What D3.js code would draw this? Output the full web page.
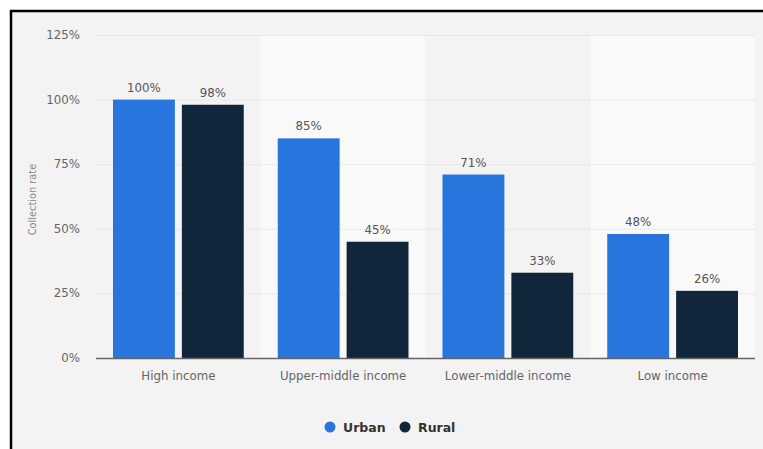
<!DOCTYPE html>
<html><head><meta charset="utf-8">
<script src="https://cdn.jsdelivr.net/npm/d3@7"></script>
<style>body{margin:0;background:#fff}svg{display:block}text{font-family:"DejaVu Sans",sans-serif}</style>
</head><body><div id="chart"></div>
<script>
const categories = ["High income","Upper-middle income","Lower-middle income","Low income"];
const series = ["Urban","Rural"];
const urban = [100,85,71,48];
const rural = [98,45,33,26];
const yTicks = [0,25,50,75,100,125];
const colors = {Urban:"#2876dd", Rural:"#12263b"};
const values = {Urban:urban, Rural:rural};

const W=763,H=449;
const svg=d3.select("#chart").append("svg").attr("width",W).attr("height",H);
svg.append("rect").attr("width",W).attr("height",H).attr("fill","#fff");
svg.append("rect").attr("x",11).attr("y",11).attr("width",W+20).attr("height",H+20)
  .attr("fill","#f3f3f3").attr("stroke","#000").attr("stroke-width",2.5);

const pLeft=96,pRight=755,pTop=35,pBottom=358;
const x=d3.scaleBand().domain(categories).range([pLeft,pRight]).padding(0);
const y=d3.scaleLinear().domain([0,125]).range([pBottom,pTop]);
const x1=d3.scaleBand().domain(series).range([17,x.bandwidth()-17]).paddingInner(0.1014).paddingOuter(0);

// alternating bands
svg.append("g").selectAll("rect").data(categories).join("rect")
  .attr("x",d=>x(d)).attr("y",pTop).attr("width",x.bandwidth()).attr("height",pBottom-pTop)
  .attr("fill",(d,i)=>i%2?"#f9f9f9":"#f3f3f3");

// gridlines
svg.append("g").selectAll("line").data(yTicks.filter(t=>t>0)).join("line")
  .attr("x1",pLeft).attr("x2",pRight).attr("y1",d=>y(d)+0.5).attr("y2",d=>y(d)+0.5)
  .attr("stroke","#dcdcdc").attr("stroke-dasharray","1,1");

// y tick labels
svg.append("g").selectAll("text").data(yTicks).join("text")
  .attr("x",80).attr("y",d=>y(d)+4).attr("text-anchor","end")
  .attr("font-size",11.8).attr("fill","#666").text(d=>d+"%");

// y title
svg.append("text").attr("transform",`translate(36,${(pTop+pBottom)/2+3}) rotate(-90)`)
  .attr("text-anchor","middle").attr("font-size",9.8).attr("fill","#888").text("Collection rate");

// bars
const g=svg.append("g");
series.forEach(s=>{
  g.append("g").selectAll("rect").data(categories).join("rect")
    .attr("x",d=>x(d)+x1(s)).attr("width",x1.bandwidth())
    .attr("y",(d,i)=>y(values[s][i])).attr("height",(d,i)=>pBottom-y(values[s][i]))
    .attr("fill",colors[s]);
  g.append("g").selectAll("text").data(categories).join("text")
    .attr("x",d=>x(d)+x1(s)+x1.bandwidth()/2).attr("y",(d,i)=>y(values[s][i])-8)
    .attr("text-anchor","middle").attr("font-size",11.8).attr("fill","#555")
    .text((d,i)=>values[s][i]+"%");
});

// axis line
svg.append("line").attr("x1",pLeft).attr("x2",pRight).attr("y1",pBottom+0.5).attr("y2",pBottom+0.5)
  .attr("stroke","#666").attr("stroke-width",1.5);

// category labels
svg.append("g").selectAll("text").data(categories).join("text")
  .attr("x",d=>x(d)+x.bandwidth()/2).attr("y",380).attr("text-anchor","middle")
  .attr("font-size",11.8).attr("fill","#666").text(d=>d);

// legend
const leg=svg.append("g");
const legX=[330,405];
series.forEach((s,i)=>{
  leg.append("circle").attr("cx",legX[i]).attr("cy",427).attr("r",5.5).attr("fill",colors[s]);
  leg.append("text").attr("x",legX[i]+13).attr("y",431.5).attr("font-size",12.5).attr("font-weight","bold")
    .attr("fill","#333").text(s);
});
</script></body></html>
